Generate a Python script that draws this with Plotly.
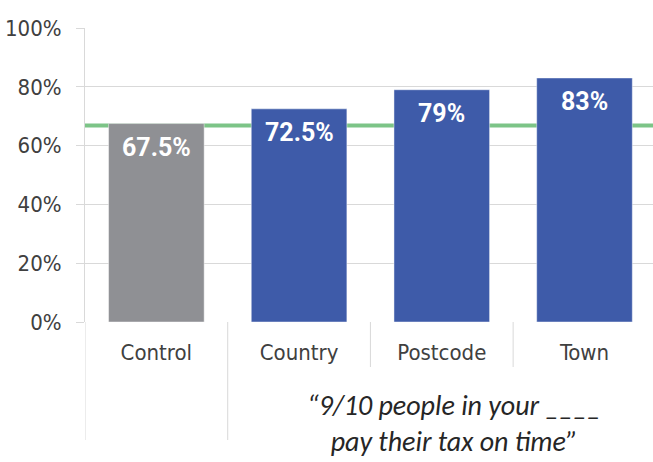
import plotly.graph_objects as go

categories = ["Control", "Country", "Postcode", "Town"]
values = [67.5, 72.5, 79, 83]
bar_colors = ["#8f9094", "#3e5ba9", "#3e5ba9", "#3e5ba9"]
benchmark = 66.8
y_ticks = [0, 20, 40, 60, 80, 100]
y_tick_text = [f"{v}%" for v in y_ticks]
caption = "\u201c9/10 people in your ____<br>pay their tax on time\u201d"

W, H = 653, 462
ML, MR, MT, MB = 85, 0, 28, 140
plot_h = H - MT - MB

fig = go.Figure()
fig.add_trace(go.Bar(
    x=categories, y=values,
    marker=dict(color=bar_colors, line=dict(color="rgba(255,255,255,0.45)", width=1)),
    width=0.67, hoverinfo="skip", showlegend=False,
))

for c, v in zip(categories, values):
    fig.add_annotation(
        x=c, y=v, xref="x", yref="y", text=f"{v:g}%", showarrow=False,
        yanchor="middle", yshift=-24,
        font=dict(family="Roboto, sans-serif", size=25, color="white", weight="bold"),
    )

fig.add_shape(type="line", xref="paper", yref="y", x0=0, x1=1, y0=benchmark, y1=benchmark,
              line=dict(color="#7cc487", width=4), layer="between")

def below(px):
    return -px / plot_h

for xpos, depth in [(-0.5, 118), (0.5, 118), (1.5, 45), (2.5, 45)]:
    fig.add_shape(type="line", xref="x", yref="paper", x0=xpos, x1=xpos, y0=0, y1=below(depth),
                  line=dict(color="#d9d9d9", width=1), layer="above")

fig.add_annotation(
    xref="paper", yref="paper", x=(454 - ML) / (W - ML - MR), y=below(101),
    text=caption, showarrow=False, yanchor="middle", xanchor="center",
    font=dict(family="Carlito, Lato", size=28, color="#262626", style="italic"),
)

fig.update_layout(
    width=W, height=H, margin=dict(l=ML, r=MR, t=MT, b=MB, autoexpand=False),
    plot_bgcolor="white", paper_bgcolor="white", bargap=0.33,
)
fig.update_xaxes(
    type="category", range=[-0.5, 3.48], showgrid=False, showline=False, zeroline=False,
    ticks="", automargin=False,
    tickfont=dict(family="DejaVu Sans Condensed, sans-serif", size=22, color="#404040"),
    ticklabelstandoff=15,
)
fig.update_yaxes(
    range=[0, 100], tickvals=y_ticks, ticktext=y_tick_text, showgrid=True, gridcolor="#d9d9d9",
    gridwidth=1, zeroline=False, showline=True, linecolor="#d9d9d9", linewidth=1,
    ticks="outside", ticklen=8, tickcolor="#d9d9d9", automargin=False,
    tickfont=dict(family="DejaVu Sans Condensed, sans-serif", size=22, color="#404040"),
    ticklabelstandoff=10,
)

fig.write_html("out.html", config={"displayModeBar": False},
               post_script="document.body.style.margin='0';")
